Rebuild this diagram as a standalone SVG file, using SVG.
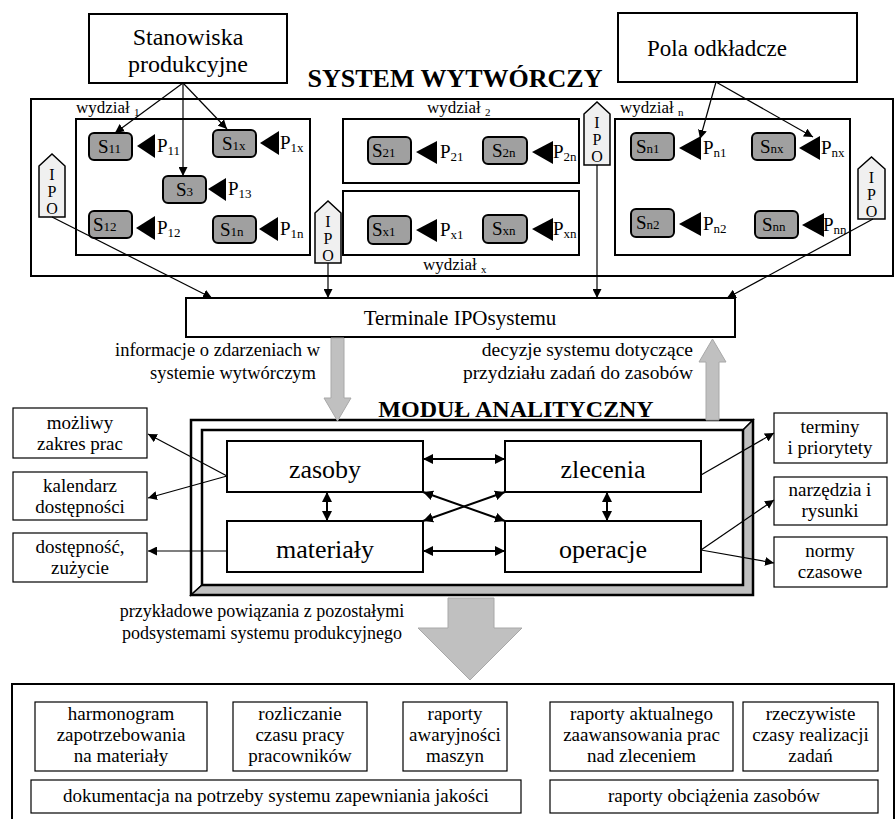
<svg xmlns="http://www.w3.org/2000/svg" width="896" height="819" viewBox="0 0 896 819" font-family="'Liberation Serif','Times New Roman','DejaVu Serif',serif">
<style>
text{font-family:"Liberation Serif","Times New Roman","DejaVu Serif",serif;fill:#000}
.box{fill:#fff;stroke:#000;stroke-width:2}
.thin{fill:#fff;stroke:#000;stroke-width:1.2}
.s{fill:#a0a0a0;stroke:#000;stroke-width:2}
.tri{fill:#000}
.ipo{fill:#f0f0f0;stroke:#000;stroke-width:1.5}
.ln{stroke:#000;stroke-width:1.2;fill:none}
.ln2{stroke:#000;stroke-width:2;fill:none}
.garr{fill:#c0c0c0;stroke:#a8a8a8;stroke-width:1}
.lbl{font-size:19px}
.sub{font-size:13px}
.mid{text-anchor:middle}
.ipt{font-size:16px;text-anchor:middle}
.bt{font-size:19px;text-anchor:middle}
</style>
<defs>
<marker id="ah" viewBox="0 0 10 10" refX="10" refY="5" markerWidth="9" markerHeight="9" markerUnits="userSpaceOnUse" orient="auto-start-reverse"><path d="M0,0L10,5L0,10z" fill="#000"/></marker>
<marker id="ah2" viewBox="0 0 10 10" refX="10" refY="5" markerWidth="10" markerHeight="10" markerUnits="userSpaceOnUse" orient="auto-start-reverse"><path d="M0,0L10,5L0,10z" fill="#000"/></marker>
</defs>

<!-- Top boxes -->
<g id="stanowiska">
<rect class="box" x="89" y="14" width="198" height="69"/>
<text class="mid" x="188" y="45" font-size="24">Stanowiska</text>
<text class="mid" x="188" y="72" font-size="24">produkcyjne</text>
</g>
<g id="pola">
<rect class="box" x="618" y="13" width="239" height="69"/>
<text class="mid" x="717" y="56" font-size="23">Pola odkładcze</text>
</g>

<g id="system">
<text class="mid" x="455" y="87" font-size="26" font-weight="bold">SYSTEM WYTWÓRCZY</text>
<rect class="box" x="31" y="99" width="862" height="177"/>
</g>

<g id="wydzial1">
<text x="76" y="113" font-size="17">wydział <tspan font-size="11" dy="3">1</tspan></text>
<rect class="box" x="76" y="119" width="234" height="136"/>
</g>
<g id="wydzial2">
<text x="427" y="113" font-size="17">wydział <tspan font-size="11" dy="3">2</tspan></text>
<rect class="box" x="343" y="119" width="236" height="64"/>
</g>
<g id="wydzialx">
<rect class="box" x="343" y="191" width="236" height="64"/>
<text x="423" y="270" font-size="17">wydział <tspan font-size="11" dy="3">x</tspan></text>
</g>
<g id="wydzialn">
<text x="620" y="113" font-size="17">wydział <tspan font-size="11" dy="3">n</tspan></text>
<rect class="box" x="615" y="119" width="235" height="136"/>
</g>

<!-- Stations -->
<g id="S11"><rect class="s" x="89" y="133" width="43" height="27" rx="5"/><text class="lbl" x="98" y="153">S<tspan class="sub">11</tspan></text></g>
<g id="S1x"><rect class="s" x="213" y="130" width="43" height="27" rx="5"/><text class="lbl" x="222" y="150">S<tspan class="sub">1x</tspan></text></g>
<g id="S3"><rect class="s" x="163" y="176" width="43" height="27" rx="5"/><text class="lbl" x="176" y="196">S<tspan class="sub">3</tspan></text></g>
<g id="S12"><rect class="s" x="89" y="211" width="43" height="27" rx="5"/><text class="lbl" x="93" y="231">S<tspan class="sub">12</tspan></text></g>
<g id="S1n"><rect class="s" x="213" y="216" width="43" height="27" rx="5"/><text class="lbl" x="220" y="236">S<tspan class="sub">1n</tspan></text></g>
<g id="S21"><rect class="s" x="368" y="137" width="43" height="27" rx="5"/><text class="lbl" x="372" y="157">S<tspan class="sub">21</tspan></text></g>
<g id="S2n"><rect class="s" x="483" y="137" width="44" height="27" rx="5"/><text class="lbl" x="492" y="157">S<tspan class="sub">2n</tspan></text></g>
<g id="Sx1"><rect class="s" x="368" y="216" width="43" height="28" rx="5"/><text class="lbl" x="372" y="236">S<tspan class="sub">x1</tspan></text></g>
<g id="Sxn"><rect class="s" x="483" y="215" width="44" height="28" rx="5"/><text class="lbl" x="492" y="235">S<tspan class="sub">xn</tspan></text></g>
<g id="Sn1"><rect class="s" x="631" y="133" width="43" height="27" rx="5"/><text class="lbl" x="636" y="153">S<tspan class="sub">n1</tspan></text></g>
<g id="Snx"><rect class="s" x="752" y="133" width="43" height="27" rx="5"/><text class="lbl" x="760" y="153">S<tspan class="sub">nx</tspan></text></g>
<g id="Sn2"><rect class="s" x="631" y="209" width="43" height="28" rx="5"/><text class="lbl" x="636" y="229">S<tspan class="sub">n2</tspan></text></g>
<g id="Snn"><rect class="s" x="755" y="211" width="43" height="27" rx="5"/><text class="lbl" x="762" y="231">S<tspan class="sub">nn</tspan></text></g>

<!-- Buffers P -->
<g id="P11"><path class="tri" d="M137,146L155,134L155,158z"/><text class="lbl" x="157" y="152">P<tspan class="sub" dy="3">11</tspan></text></g>
<g id="P1x"><path class="tri" d="M260,143L279,131L279,155z"/><text class="lbl" x="280" y="149">P<tspan class="sub" dy="3">1x</tspan></text></g>
<g id="P13"><path class="tri" d="M208,189L226,178L226,201z"/><text class="lbl" x="228" y="195">P<tspan class="sub" dy="3">13</tspan></text></g>
<g id="P12"><path class="tri" d="M136,228L155,216L155,240z"/><text class="lbl" x="157" y="234">P<tspan class="sub" dy="3">12</tspan></text></g>
<g id="P1n"><path class="tri" d="M259,229L278,217L278,241z"/><text class="lbl" x="280" y="235">P<tspan class="sub" dy="3">1n</tspan></text></g>
<g id="P21"><path class="tri" d="M416,152L437,141L437,164z"/><text class="lbl" x="440" y="158">P<tspan class="sub" dy="3">21</tspan></text></g>
<g id="P2n"><path class="tri" d="M532,152L553,141L553,164z"/><text class="lbl" x="553" y="158">P<tspan class="sub" dy="3">2n</tspan></text></g>
<g id="Px1"><path class="tri" d="M416,230L437,219L437,242z"/><text class="lbl" x="440" y="236">P<tspan class="sub" dy="3">x1</tspan></text></g>
<g id="Pxn"><path class="tri" d="M532,229L553,218L553,241z"/><text class="lbl" x="553" y="235">P<tspan class="sub" dy="3">xn</tspan></text></g>
<g id="Pn1"><path class="tri" d="M679,148L701,136L701,160z"/><text class="lbl" x="703" y="154">P<tspan class="sub" dy="3">n1</tspan></text></g>
<g id="Pnx"><path class="tri" d="M799,148L820,136L820,160z"/><text class="lbl" x="821" y="154">P<tspan class="sub" dy="3">nx</tspan></text></g>
<g id="Pn2"><path class="tri" d="M679,224L701,212L701,236z"/><text class="lbl" x="703" y="230">P<tspan class="sub" dy="3">n2</tspan></text></g>
<g id="Pnn"><path class="tri" d="M802,225L824,213L824,237z"/><text class="lbl" x="823" y="231">P<tspan class="sub" dy="3">nn</tspan></text></g>

<!-- IPO terminals -->
<g id="ipo1"><path class="ipo" d="M39,166L52,154L65,166L65,217L39,217z"/><text class="ipt" x="52" y="180">I</text><text class="ipt" x="52" y="197">P</text><text class="ipt" x="52" y="214">O</text></g>
<g id="ipo2"><path class="ipo" d="M315,213L328,201L341,213L341,263L315,263z"/><text class="ipt" x="328" y="227">I</text><text class="ipt" x="328" y="244">P</text><text class="ipt" x="328" y="261">O</text></g>
<g id="ipo3"><path class="ipo" d="M584,114L597,102L610,114L610,165L584,165z"/><text class="ipt" x="597" y="128">I</text><text class="ipt" x="597" y="145">P</text><text class="ipt" x="597" y="162">O</text></g>
<g id="ipo4"><path class="ipo" d="M858,169L871.5,157L885,169L885,219L858,219z"/><text class="ipt" x="871.5" y="183">I</text><text class="ipt" x="871.5" y="200">P</text><text class="ipt" x="871.5" y="217">O</text></g>

<g id="terminal">
<rect class="box" x="186" y="298" width="549" height="39"/>
<text class="mid" x="460" y="325" font-size="21">Terminale IPOsystemu</text>
</g>

<g id="labels">
<text x="320" y="356" font-size="18.5" text-anchor="end">informacje o zdarzeniach w</text>
<text x="316" y="379" font-size="18.5" text-anchor="end">systemie wytwórczym</text>
<text x="693" y="356" font-size="19.5" text-anchor="end">decyzje systemu dotyczące</text>
<text x="693" y="379" font-size="19.5" text-anchor="end">przydziału zadań do zasobów</text>
<text class="mid" x="262" y="617" font-size="18">przykładowe powiązania z pozostałymi</text>
<text class="mid" x="262" y="639" font-size="18">podsystemami systemu produkcyjnego</text>
</g>

<!-- Moduł analityczny -->
<g id="modul">
<text class="mid" x="516" y="417" font-size="24" font-weight="bold">MODUŁ ANALITYCZNY</text>
<path d="M191,420L753,420L743,430L202,430L202,585L191,595z" fill="#fff" stroke="#000" stroke-width="1.5"/>
<path d="M753,420L753,595L191,595L202,585L743,585L743,430z" fill="#c0c0c0" stroke="#000" stroke-width="1.5"/>
<rect x="191" y="420" width="562" height="175" fill="none" stroke="#000" stroke-width="2.5"/>
<rect x="202" y="430" width="541" height="155" fill="#fff" stroke="#000" stroke-width="2.5"/>
</g>
<g id="zasoby"><rect class="box" x="227" y="441" width="196" height="51"/><text class="mid" x="325" y="478" font-size="26">zasoby</text></g>
<g id="zlecenia"><rect class="box" x="505" y="441" width="196" height="51"/><text class="mid" x="603" y="478" font-size="26">zlecenia</text></g>
<g id="materialy"><rect class="box" x="227" y="521" width="196" height="51"/><text class="mid" x="325" y="558" font-size="26">materiały</text></g>
<g id="operacje"><rect class="box" x="505" y="521" width="196" height="51"/><text class="mid" x="603" y="558" font-size="26">operacje</text></g>

<g id="mozliwy"><rect class="thin" x="13" y="408" width="134" height="50"/><text class="mid" x="80" y="429" font-size="19">możliwy</text><text class="mid" x="80" y="450" font-size="19">zakres prac</text></g>
<g id="kalendarz"><rect class="thin" x="13" y="472" width="134" height="48"/><text class="mid" x="80" y="492" font-size="19">kalendarz</text><text class="mid" x="80" y="513" font-size="19">dostępności</text></g>
<g id="dostepnosc"><rect class="thin" x="13" y="533" width="134" height="49"/><text class="mid" x="80" y="553" font-size="19">dostępność,</text><text class="mid" x="80" y="574" font-size="19">zużycie</text></g>
<g id="terminy"><rect class="thin" x="774" y="413" width="113" height="50"/><text class="mid" x="830" y="433" font-size="19">terminy</text><text class="mid" x="830" y="454" font-size="19">i priorytety</text></g>
<g id="narzedzia"><rect class="thin" x="774" y="477" width="113" height="48"/><text class="mid" x="830" y="496" font-size="19">narzędzia i</text><text class="mid" x="830" y="517" font-size="19">rysunki</text></g>
<g id="normy"><rect class="thin" x="774" y="537" width="113" height="50"/><text class="mid" x="830" y="557" font-size="19">normy</text><text class="mid" x="830" y="578" font-size="19">czasowe</text></g>

<!-- big gray arrows -->
<g id="garrows">
<path class="garr" d="M331,338L344,338L344,398L351,398L337.5,421L324,398L331,398z"/>
<path class="garr" d="M706,420L719,420L719,362L726,362L712.5,339L699,362L706,362z"/>
<path class="garr" d="M448,598L494,598L494,628L522,628L470,680L418,628L448,628z"/>
</g>

<!-- bottom section -->
<g id="bottom">
<rect class="box" x="12" y="684" width="882" height="140"/>
</g>
<g id="b1"><rect class="thin" x="35" y="702" width="172" height="69"/><text class="bt" x="121" y="720">harmonogram</text><text class="bt" x="121" y="741">zapotrzebowania</text><text class="bt" x="121" y="762">na materiały</text></g>
<g id="b2"><rect class="thin" x="233" y="702" width="134" height="69"/><text class="bt" x="300" y="720">rozliczanie</text><text class="bt" x="300" y="741">czasu pracy</text><text class="bt" x="300" y="762">pracowników</text></g>
<g id="b3"><rect class="thin" x="403" y="702" width="104" height="69"/><text class="bt" x="455" y="720">raporty</text><text class="bt" x="455" y="741">awaryjności</text><text class="bt" x="455" y="762">maszyn</text></g>
<g id="b4"><rect class="thin" x="550" y="702" width="183" height="69"/><text class="bt" x="641.5" y="720">raporty aktualnego</text><text class="bt" x="641.5" y="741">zaawansowania prac</text><text class="bt" x="641.5" y="762">nad zleceniem</text></g>
<g id="b5"><rect class="thin" x="743" y="702" width="135" height="69"/><text class="bt" x="810.5" y="720">rzeczywiste</text><text class="bt" x="810.5" y="741">czasy realizacji</text><text class="bt" x="810.5" y="762">zadań</text></g>
<g id="b6"><rect class="thin" x="31" y="780" width="490" height="33"/><text class="bt" x="276" y="802">dokumentacja na potrzeby systemu zapewniania jakości</text></g>
<g id="b7"><rect class="thin" x="550" y="780" width="328" height="33"/><text class="bt" x="714" y="802">raporty obciążenia zasobów</text></g>

<!-- connectors -->
<g id="connectors">
<line class="ln" x1="183" y1="83" x2="115" y2="133" marker-end="url(#ah)"/>
<line class="ln" x1="183" y1="83" x2="227" y2="129" marker-end="url(#ah)"/>
<line class="ln" x1="183" y1="83" x2="183" y2="176" marker-end="url(#ah)"/>
<line class="ln" x1="716" y1="82" x2="700" y2="139" marker-end="url(#ah)"/>
<line class="ln" x1="716" y1="82" x2="813" y2="137" marker-end="url(#ah)"/>
<line class="ln" x1="52" y1="217" x2="212" y2="298" marker-end="url(#ah)"/>
<line class="ln" x1="328" y1="263" x2="328" y2="298" marker-end="url(#ah)"/>
<line class="ln" x1="597" y1="165" x2="597" y2="298" marker-end="url(#ah)"/>
<line class="ln" x1="873" y1="219" x2="727" y2="298" marker-end="url(#ah)"/>
<line class="ln2" x1="423" y1="459" x2="505" y2="459" marker-start="url(#ah2)" marker-end="url(#ah2)"/>
<line class="ln2" x1="423" y1="551" x2="505" y2="551" marker-start="url(#ah2)" marker-end="url(#ah2)"/>
<line class="ln2" x1="423" y1="492" x2="505" y2="521" marker-start="url(#ah2)" marker-end="url(#ah2)"/>
<line class="ln2" x1="423" y1="521" x2="505" y2="492" marker-start="url(#ah2)" marker-end="url(#ah2)"/>
<line class="ln2" x1="327" y1="492" x2="327" y2="521" marker-start="url(#ah2)" marker-end="url(#ah2)"/>
<line class="ln2" x1="607" y1="492" x2="607" y2="521" marker-start="url(#ah2)" marker-end="url(#ah2)"/>
<line class="ln" x1="227" y1="476" x2="148" y2="434" marker-end="url(#ah)"/>
<line class="ln" x1="227" y1="476" x2="148" y2="498" marker-end="url(#ah)"/>
<line class="ln" x1="227" y1="551" x2="148" y2="551" marker-end="url(#ah)"/>
<line class="ln" x1="701" y1="475" x2="774" y2="433" marker-end="url(#ah)"/>
<line class="ln" x1="701" y1="550" x2="774" y2="500" marker-end="url(#ah)"/>
<line class="ln" x1="701" y1="550" x2="774" y2="563" marker-end="url(#ah)"/>
</g>
</svg>
